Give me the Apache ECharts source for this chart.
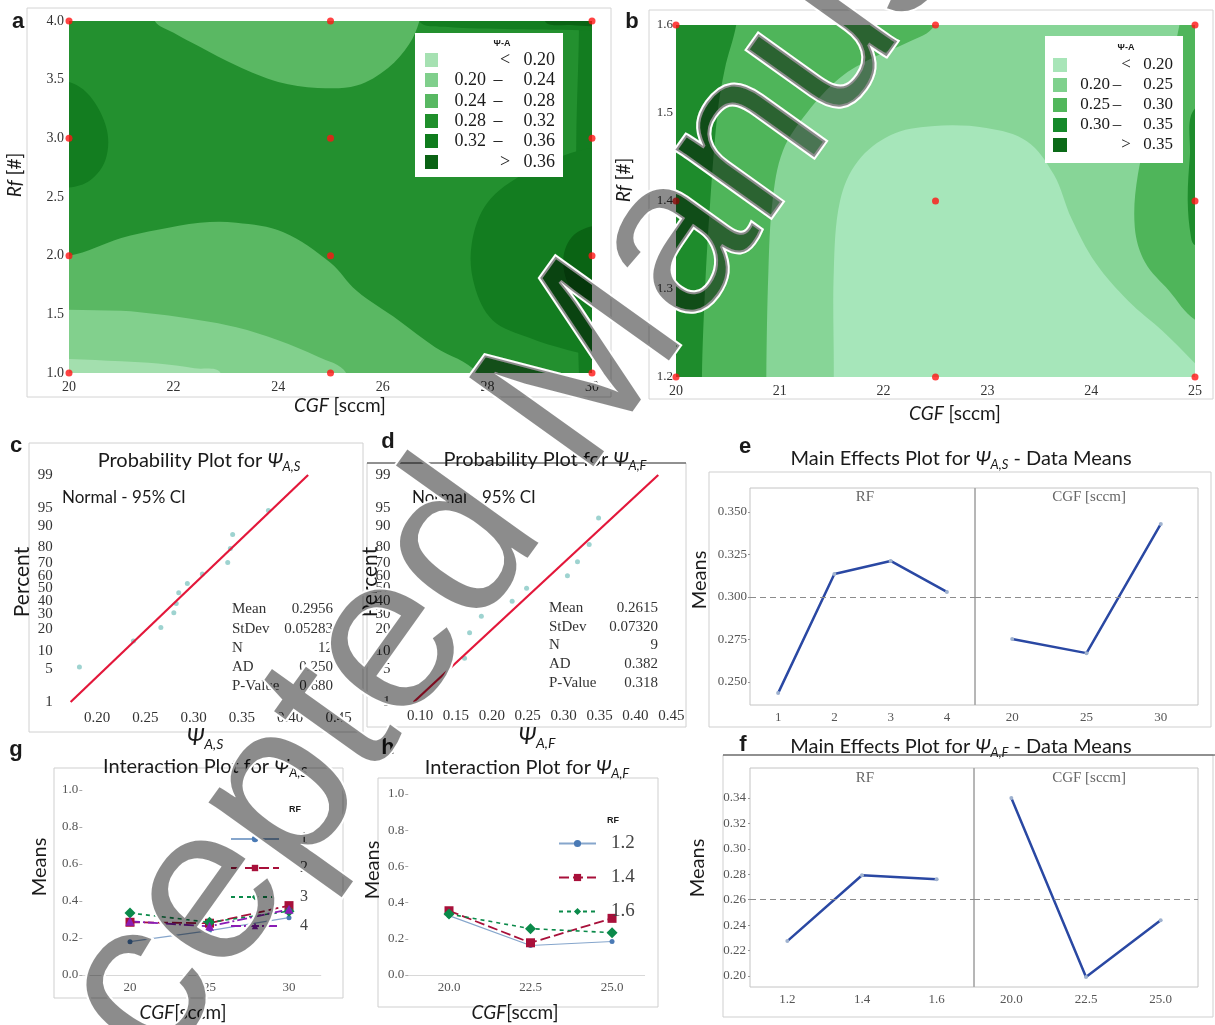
<!DOCTYPE html>
<html><head><meta charset="utf-8"><title>Psi-A figure</title>
<script src="https://cdn.jsdelivr.net/npm/echarts@6.0.0/dist/echarts.min.js"></script>
<style>html,body{margin:0;padding:0;background:#fff}#chart{width:1215px;height:1025px}</style>
</head><body><div id="chart"></div>
<script>
// ======================= DATA =======================
// (a) contour of Psi-A, CGF [sccm] vs Rf [#]
const aDesignCGF = [20,25,30,20,25,30,20,25,30,20,25,30];
const aDesignRf  = [4,4,4,3,3,3,2,2,2,1,1,1];
const aLegendRows = [['','<','0.20'],['0.20','–','0.24'],['0.24','–','0.28'],['0.28','–','0.32'],['0.32','–','0.36'],['','>','0.36']];
// band boundaries, [CGF, Rf]
const aTop2428   = [[21.3,4.4],[21.64,4.0],[22.0,3.9],[22.5,3.78],[23.2,3.62],[24.0,3.48],[24.75,3.43],[25.5,3.45],[26.1,3.6],[26.5,3.8],[26.7,4.0],[26.9,4.4]];
const aLeft3236  = [[19.4,3.5],[20,3.48],[20.4,3.36],[20.72,3.08],[20.7,2.82],[20.4,2.64],[20,2.58],[19.4,2.58]];
const aRight3236 = [[31,3.0],[30,2.92],[29.5,2.86],[28.7,2.7],[28.0,2.45],[27.7,2.1],[27.75,1.75],[28.1,1.45],[28.8,1.3],[29.5,1.2],[30,1.15],[31,1.1]];
const aRight36   = [[31,2.3],[30,2.25],[29.6,2.15],[29.45,1.95],[29.6,1.72],[30,1.62],[31,1.6]];
const aTopR3236  = [[26.6,4.5],[26.7,4.0],[27.2,3.95],[28.5,3.93],[30,3.92],[31,3.9],[31,4.5]];
const aEdge3236  = [[29.75,4.5],[29.75,3.9],[29.7,3.0],[29.7,2.0],[29.75,1.0],[29.8,0.5],[31,0.5],[31,4.5]];
const aTopR36    = [[29.0,4.5],[29.1,4.0],[29.6,3.965],[30,3.955],[31,3.95],[31,4.5]];
const aBot2428   = [[19,2.02],[20,2.0],[21.0,2.15],[21.7,2.22],[22.5,2.28],[23.2,2.28],[24.1,2.2],[25.0,1.94],[25.5,1.7],[26.3,1.45],[27.0,1.22],[27.8,1.0],[28.2,0.5],[19,0.5]];
const aBot2024   = [[19,1.55],[20,1.54],[21.0,1.53],[21.7,1.5],[22.5,1.45],[23.2,1.39],[24.0,1.28],[24.75,1.14],[25.3,1.0],[25.6,0.5],[19,0.5]];
const aBot20     = [[19,1.13],[20,1.12],[21,1.1],[21.7,1.08],[22.4,1.04],[22.9,1.0],[23.2,0.5],[19,0.5]];

// (b) contour of Psi-A, CGF [sccm] vs Rf [#]
const bDesignCGF = [20,22.5,25,20,22.5,25,20,22.5,25];
const bDesignRf  = [1.6,1.6,1.6,1.4,1.4,1.4,1.2,1.2,1.2];
const bLegendRows = [['','<','0.20'],['0.20','–','0.25'],['0.25','–','0.30'],['0.30','–','0.35'],['','>','0.35']];
const bLeft2530  = [[19,1.0],[20.86,1.0],[20.87,1.2],[20.89,1.32],[20.93,1.4],[21.03,1.457],[21.26,1.50],[21.58,1.54],[21.9,1.563],[22.23,1.58],[22.49,1.6],[22.7,1.7],[19,1.7]];
const bLeft3035  = [[19,1.7],[20.7,1.7],[20.58,1.6],[20.47,1.55],[20.4,1.5],[20.33,1.4],[20.28,1.3],[20.25,1.2],[20.24,1.0],[19,1.0]];
const bCenter20  = [[21.5,1.0],[21.52,1.2],[21.52,1.32],[21.58,1.4],[21.75,1.445],[22.07,1.475],[22.46,1.485],[22.99,1.483],[23.38,1.468],[23.64,1.43],[23.81,1.38],[24.04,1.33],[24.36,1.286],[24.69,1.252],[24.98,1.218],[25.2,1.19],[25.5,1.0]];
const bRight2530 = [[24.9,1.7],[24.85,1.6],[24.6,1.5],[24.45,1.43],[24.42,1.37],[24.52,1.33],[24.75,1.298],[25,1.265],[25.5,1.24],[25.5,1.7]];
const bRight3035 = [[25.5,1.52],[25,1.505],[24.95,1.45],[24.93,1.40],[24.96,1.36],[25,1.35],[25.5,1.33]];

// (c) probability plot Psi_A,S
const cX   = [0.1818,0.2377,0.2661,0.2795,0.282,0.2846,0.2935,0.309,0.3353,0.338,0.3404,0.3774];
const cPct = [5.4,14.1,21.2,30.9,38,46.5,54,61.6,70.3,79.4,86.6,94.5];
const cFit = [[0.1727,1],[0.4185,99]];
const cStats = [['Mean','0.2956'],['StDev','0.05283'],['N','12'],['AD','0.250'],['P-Value','0.680']];
const cXTicks = [0.20,0.25,0.30,0.35,0.40,0.45];
// (d) probability plot Psi_A,F
const dX   = [0.162,0.169,0.1854,0.2283,0.2484,0.3053,0.3193,0.3356,0.3487];
const dPct = [7.6,18.2,28.5,39.6,50.3,60.4,70.8,81.6,92.6];
const dFit = [[0.0912,1],[0.4318,99]];
const dStats = [['Mean','0.2615'],['StDev','0.07320'],['N','9'],['AD','0.382'],['P-Value','0.318']];
const dXTicks = [0.10,0.15,0.20,0.25,0.30,0.35,0.40,0.45];
const pctTicks = [1,5,10,20,30,40,50,60,70,80,90,95,99];

// (e) main effects Psi_A,S
const eRF = [1,2,3,4];          const eRFMeans  = [0.2435,0.3135,0.3212,0.303];
const eCGF = [20,25,30];        const eCGFMeans = [0.2753,0.267,0.343];
const eGrandMean = 0.2956;
const eYTicks = [0.250,0.275,0.300,0.325,0.350];
// (f) main effects Psi_A,F
const fRF = [1.2,1.4,1.6];      const fRFMeans  = [0.2274,0.2792,0.2760];
const fCGF = [20.0,22.5,25.0];  const fCGFMeans = [0.340,0.1992,0.2439];
const fGrandMean = 0.2615;
const fYTicks = [0.20,0.22,0.24,0.26,0.28,0.30,0.32,0.34];

// (g) interaction Psi_A,S
const gCGF = [20,25,30];
const gRFNames = ['1','2','3','4'];
const gRF1 = [0.18,0.24,0.31];
const gRF2 = [0.285,0.28,0.375];
const gRF3 = [0.335,0.285,0.345];
const gRF4 = [0.29,0.263,0.355];
// (h) interaction Psi_A,F
const hCGF = [20.0,22.5,25.0];
const hRFNames = ['1.2','1.4','1.6'];
const hRF12 = [0.328,0.163,0.185];
const hRF14 = [0.355,0.178,0.313];
const hRF16 = [0.337,0.256,0.234];

// ======================= HELPERS =======================
function probit(p){
  const a=[-3.969683028665376e+01,2.209460984245205e+02,-2.759285104469687e+02,1.383577518672690e+02,-3.066479806614716e+01,2.506628277459239e+00];
  const b=[-5.447609879822406e+01,1.615858368580409e+02,-1.556989798598866e+02,6.680131188771972e+01,-1.328068155288572e+01];
  const c=[-7.784894002430293e-03,-3.223964580411365e-01,-2.400758277161838e+00,-2.549732539343734e+00,4.374664141464968e+00,2.938163982698783e+00];
  const d=[7.784695709041462e-03,3.224671290700398e-01,2.445134137142996e+00,3.754408661907416e+00];
  const pl=0.02425, ph=1-pl; let q,r;
  if(p<pl){q=Math.sqrt(-2*Math.log(p));return (((((c[0]*q+c[1])*q+c[2])*q+c[3])*q+c[4])*q+c[5])/((((d[0]*q+d[1])*q+d[2])*q+d[3])*q+1);}
  if(p<=ph){q=p-0.5;r=q*q;return (((((a[0]*r+a[1])*r+a[2])*r+a[3])*r+a[4])*r+a[5])*q/(((((b[0]*r+b[1])*r+b[2])*r+b[3])*r+b[4])*r+1);}
  q=Math.sqrt(-2*Math.log(1-p));return -(((((c[0]*q+c[1])*q+c[2])*q+c[3])*q+c[4])*q+c[5])/((((d[0]*q+d[1])*q+d[2])*q+d[3])*q+1);
}
function pctLabel(v){let best=pctTicks[0],bd=1e9;pctTicks.forEach(p=>{const dd=Math.abs(probit(p/100)-v);if(dd<bd){bd=dd;best=p;}});return String(best);}
const ctx2d=document.createElement('canvas').getContext('2d');
function tw(t,f){ctx2d.font=f;return ctx2d.measureText(t).width;}

const SERIF='"Liberation Serif", "DejaVu Serif", serif';
const SANS='Lato, "Open Sans", sans-serif';
const G=[];
function tstyle(text,font,fill,align,va){return {text:text,font:font,fill:fill||'#1a1a1a',align:align||'left',verticalAlign:va||'middle',textAlign:align||'left',textVerticalAlign:va||'middle'};}
function txt(x,y,text,font,o){o=o||{};G.push({type:'text',x:x,y:y,z:o.z||60,rotation:o.rot||0,silent:true,style:tstyle(text,font,o.fill,o.align,o.va)});}
function comp(cx,cy,parts,o){o=o||{};const ws=parts.map(p=>tw(p.t,p.f));const total=ws.reduce((s,w)=>s+w,0);let x=-total/2;const ch=[];
  parts.forEach((p,i)=>{ch.push({type:'text',x:x,y:(p.dy||0),z:o.z||60,silent:true,style:tstyle(p.t,p.f,o.fill,'left','middle')});x+=ws[i];});
  G.push({type:'group',x:cx,y:cy,rotation:o.rot||0,z:o.z||60,children:ch});}
function rect(x,y,w,h,o){o=o||{};G.push({type:'rect',z:o.z||0,silent:true,shape:{x:x,y:y,width:w,height:h},style:{fill:o.fill||'none',stroke:o.stroke||'none',lineWidth:o.lw||1}});}
function hline(x1,y1,x2,y2,color,w,z){G.push({type:'line',z:z||1,silent:true,shape:{x1:x1,y1:y1,x2:x2,y2:y2},style:{stroke:color,lineWidth:w||1}});}

// ======================= STYLE =======================
const colA = {lt20:'#a3dfae', b2024:'#82d08d', b2428:'#5ab863', b2832:'#23902f', b3236:'#137d20', gt36:'#0a6414'};
const colA_leg = ['#a6e1b2','#80cf8c','#58b862','#1f8f2b','#0f7c1d','#0a6214'];
const colB = {lt20:'#a6e6ba', b2025:'#87d597', b2530:'#4fb55a', b3035:'#1e8c2c'};
const colB_leg = ['#a8e5b8','#7fd18d','#52b75c','#15892a','#0b6a18'];

function region(gi,pts,color){
  return {type:'custom',xAxisIndex:gi,yAxisIndex:gi,clip:true,silent:true,data:[[pts[0][0],pts[0][1]]],
    renderItem:function(params,api){const cs=params.coordSys;
      return {type:'polygon',shape:{points:pts.map(p=>api.coord(p)),smooth:0.35},style:{fill:color,stroke:null},
        clipPath:{type:'rect',shape:{x:cs.x,y:cs.y,width:cs.width,height:cs.height}}};}};
}
const noLine={show:false}, noTick={show:false}, noSplit={show:false};
function lbl(o){return Object.assign({fontFamily:SERIF,fontSize:14,color:'#333'},o);}

const grids=[
  {left:69,top:21,width:523,height:352,show:true,backgroundColor:colA.b2832,borderWidth:0},
  {left:676,top:25,width:519,height:352,show:true,backgroundColor:colB.b2025,borderWidth:0},
  {left:48.7,top:469,width:299.5,height:239},
  {left:398.5,top:469,width:280,height:239},
  {left:750,top:488,width:225,height:217,show:true,borderColor:'#c4c4c4',borderWidth:1,backgroundColor:'rgba(0,0,0,0)'},
  {left:975,top:488,width:223,height:217,show:true,borderColor:'#c4c4c4',borderWidth:1,backgroundColor:'rgba(0,0,0,0)'},
  {left:750,top:768,width:224,height:219,show:true,borderColor:'#c4c4c4',borderWidth:1,backgroundColor:'rgba(0,0,0,0)'},
  {left:974,top:768,width:224,height:219,show:true,borderColor:'#c4c4c4',borderWidth:1,backgroundColor:'rgba(0,0,0,0)'},
  {left:82.3,top:790,width:238.5,height:185},
  {left:408.25,top:794,width:236.4,height:181}
].map(g=>Object.assign({outerBoundsMode:'none',containLabel:false},g));

const xAxes=[
  {gridIndex:0,type:'value',min:20,max:30,interval:2,axisLine:noLine,axisTick:noTick,splitLine:noSplit,axisLabel:lbl({margin:7})},
  {gridIndex:1,type:'value',min:20,max:25,interval:1,axisLine:noLine,axisTick:noTick,splitLine:noSplit,axisLabel:lbl({margin:7})},
  {gridIndex:2,type:'value',min:0.15,max:0.46,axisLine:noLine,axisTick:noTick,splitLine:noSplit,axisLabel:lbl({customValues:cXTicks,formatter:v=>v.toFixed(2),margin:3,fontSize:15})},
  {gridIndex:3,type:'value',min:0.07,max:0.46,axisLine:noLine,axisTick:noTick,splitLine:noSplit,axisLabel:lbl({customValues:dXTicks,formatter:v=>v.toFixed(2),margin:1,fontSize:15})},
  {gridIndex:4,type:'value',min:0.5,max:4.5,axisLine:noLine,axisTick:noTick,splitLine:noSplit,axisLabel:lbl({customValues:eRF,formatter:v=>String(v),margin:6,fontSize:13,color:'#555'})},
  {gridIndex:5,type:'value',min:17.5,max:32.5,axisLine:noLine,axisTick:noTick,splitLine:noSplit,axisLabel:lbl({customValues:eCGF,formatter:v=>String(v),margin:6,fontSize:13,color:'#555'})},
  {gridIndex:6,type:'value',min:1.1,max:1.7,axisLine:noLine,axisTick:noTick,splitLine:noSplit,axisLabel:lbl({customValues:fRF,formatter:v=>v.toFixed(1),margin:6,fontSize:13,color:'#555'})},
  {gridIndex:7,type:'value',min:18.75,max:26.25,axisLine:noLine,axisTick:noTick,splitLine:noSplit,axisLabel:lbl({customValues:fCGF,formatter:v=>v.toFixed(1),margin:6,fontSize:13,color:'#555'})},
  {gridIndex:8,type:'value',min:17,max:32,axisLine:{show:true,lineStyle:{color:'#d8d8d8'}},axisTick:noTick,splitLine:noSplit,axisLabel:lbl({customValues:gCGF,formatter:v=>String(v),margin:6,fontSize:13,color:'#555'})},
  {gridIndex:9,type:'value',min:18.75,max:26,axisLine:{show:true,lineStyle:{color:'#d8d8d8'}},axisTick:noTick,splitLine:noSplit,axisLabel:lbl({customValues:hCGF,formatter:v=>v.toFixed(1),margin:6,fontSize:13,color:'#555'})}
];
const yAxes=[
  {gridIndex:0,type:'value',min:1,max:4,interval:0.5,axisLine:noLine,axisTick:noTick,splitLine:noSplit,axisLabel:lbl({formatter:v=>v.toFixed(1),margin:5})},
  {gridIndex:1,type:'value',min:1.2,max:1.6,interval:0.1,axisLine:noLine,axisTick:noTick,splitLine:noSplit,axisLabel:lbl({formatter:v=>v.toFixed(1),margin:3,fontSize:13})},
  {gridIndex:2,type:'value',min:-2.45,max:2.45,axisLine:noLine,axisTick:noTick,splitLine:noSplit,axisLabel:lbl({customValues:pctTicks.map(p=>probit(p/100)),formatter:pctLabel,margin:-4,fontSize:15})},
  {gridIndex:3,type:'value',min:-2.45,max:2.45,axisLine:noLine,axisTick:noTick,splitLine:noSplit,axisLabel:lbl({customValues:pctTicks.map(p=>probit(p/100)),formatter:pctLabel,margin:8,fontSize:15})},
  {gridIndex:4,type:'value',min:0.2365,max:0.3641,axisLine:noLine,axisTick:{show:true,length:2,customValues:eYTicks,lineStyle:{color:'#999'}},splitLine:noSplit,axisLabel:lbl({customValues:eYTicks,formatter:v=>v.toFixed(3),margin:3,fontSize:13,color:'#555'})},
  {gridIndex:5,type:'value',min:0.2365,max:0.3641,axisLine:noLine,axisTick:noTick,splitLine:noSplit,axisLabel:{show:false}},
  {gridIndex:6,type:'value',min:0.1913,max:0.3636,axisLine:noLine,axisTick:{show:true,length:2,customValues:fYTicks,lineStyle:{color:'#999'}},splitLine:noSplit,axisLabel:lbl({customValues:fYTicks,formatter:v=>v.toFixed(2),margin:4,fontSize:13,color:'#555'})},
  {gridIndex:7,type:'value',min:0.1913,max:0.3636,axisLine:noLine,axisTick:noTick,splitLine:noSplit,axisLabel:{show:false}},
  {gridIndex:8,type:'value',min:0,max:1,interval:0.2,axisLine:noLine,axisTick:{show:true,length:3,lineStyle:{color:'#aaa'}},splitLine:noSplit,axisLabel:lbl({formatter:v=>v.toFixed(1),margin:4,fontSize:13,color:'#555'})},
  {gridIndex:9,type:'value',min:0,max:1,interval:0.2,axisLine:noLine,axisTick:{show:true,length:3,lineStyle:{color:'#aaa'}},splitLine:noSplit,axisLabel:lbl({formatter:v=>v.toFixed(1),margin:4,fontSize:13,color:'#555'})}
];

const series=[];
// (a)
series.push(region(0,aTop2428,colA.b2428));
series.push(region(0,aEdge3236,colA.b3236));
series.push(region(0,aTopR3236,colA.b3236));
series.push(region(0,aTopR36,colA.gt36));
series.push(region(0,aLeft3236,colA.b3236));
series.push(region(0,aRight3236,colA.b3236));
series.push(region(0,aRight36,colA.gt36));
series.push(region(0,aBot2428,colA.b2428));
series.push(region(0,aBot2024,colA.b2024));
series.push(region(0,aBot20,colA.lt20));
series.push({type:'scatter',xAxisIndex:0,yAxisIndex:0,z:5,silent:true,symbolSize:7,itemStyle:{color:'#ff1414'},data:aDesignCGF.map((x,i)=>[x,aDesignRf[i]]),clip:false});
// (b)
series.push(region(1,bLeft2530,colB.b2530));
series.push(region(1,bLeft3035,colB.b3035));
series.push(region(1,bCenter20,colB.lt20));
series.push(region(1,bRight2530,colB.b2530));
series.push(region(1,bRight3035,colB.b3035));
series.push({type:'scatter',xAxisIndex:1,yAxisIndex:1,z:5,silent:true,symbolSize:7,itemStyle:{color:'#ff1414'},data:bDesignCGF.map((x,i)=>[x,bDesignRf[i]]),clip:false});
// (c),(d)
series.push({type:'line',xAxisIndex:2,yAxisIndex:2,silent:true,symbol:'none',lineStyle:{color:'#e3173a',width:2.2},data:cFit.map(p=>[p[0],probit(p[1]/100)])});
series.push({type:'scatter',xAxisIndex:2,yAxisIndex:2,silent:true,symbolSize:5,itemStyle:{color:'#86c8c4'},data:cX.map((x,i)=>[x,probit(cPct[i]/100)])});
series.push({type:'line',xAxisIndex:3,yAxisIndex:3,silent:true,symbol:'none',lineStyle:{color:'#e3173a',width:2.2},data:dFit.map(p=>[p[0],probit(p[1]/100)])});
series.push({type:'scatter',xAxisIndex:3,yAxisIndex:3,silent:true,symbolSize:5,itemStyle:{color:'#86c8c4'},data:dX.map((x,i)=>[x,probit(dPct[i]/100)])});
// (e),(f)
function meLine(gi,xs,ys,mean){return {type:'line',xAxisIndex:gi,yAxisIndex:gi,silent:true,symbol:'circle',symbolSize:4,itemStyle:{color:'#9fb2cf'},lineStyle:{color:'#2a48a3',width:2.5},data:xs.map((x,i)=>[x,ys[i]]),
  markLine:{silent:true,symbol:'none',label:{show:false},lineStyle:{type:[6,4],color:'#8c8c8c',width:1.2},data:[{yAxis:mean}]}};}
series.push(meLine(4,eRF,eRFMeans,eGrandMean));
series.push(meLine(5,eCGF,eCGFMeans,eGrandMean));
series.push(meLine(6,fRF,fRFMeans,fGrandMean));
series.push(meLine(7,fCGF,fCGFMeans,fGrandMean));
// (g),(h)
const intStyles=[
  {color:'#4a7ab5',line:{width:1.2,type:'solid',color:'#86a6cc'},symbol:'circle',size:5},
  {color:'#a8103a',line:{width:1.8,type:[10,4]},symbol:'rect',size:9},
  {color:'#0b8a4a',line:{width:1.6,type:[4,4]},symbol:'diamond',size:11},
  {color:'#8a1db5',line:{width:1.8,type:[10,3,2,3]},symbol:'triangle',size:9}
];
function intLine(gi,name,xs,ys,st){return {type:'line',name:name,xAxisIndex:gi,yAxisIndex:gi,silent:true,symbol:st.symbol,symbolSize:st.size,itemStyle:{color:st.color},lineStyle:Object.assign({color:st.color},st.line),data:xs.map((x,i)=>[x,ys[i]])};}
[gRF1,gRF2,gRF3,gRF4].forEach((ys,i)=>series.push(intLine(8,gRFNames[i],gCGF,ys,intStyles[i])));
[hRF12,hRF14,hRF16].forEach((ys,i)=>series.push(intLine(9,hRFNames[i],hCGF,ys,intStyles[i])));

// ======================= TEXT & FRAMES =======================
rect(27,8,584,389,{stroke:'#d4d4d4'});
rect(649,10,564,389,{stroke:'#d4d4d4'});
rect(29,443,334,289,{stroke:'#d0d0d0'});
rect(367,463,319,264,{stroke:'#d0d0d0'});
hline(367,463,686,463,'#3a3a3a',1.2,2);
rect(709,472,502,255,{stroke:'#cfcfcf'});
rect(723,755,490,262,{stroke:'#cfcfcf'});
hline(723,755,1215,755,'#3a3a3a',1.2,2);
rect(54,768,289,230,{stroke:'#cfcfcf'});
rect(378,778,280,229,{stroke:'#cfcfcf'});
hline(975,488,975,705,'#9a9a9a',1,3);
hline(974,768,974,987,'#9a9a9a',1,3);

const LET='bold 22px "Liberation Sans", Arial, sans-serif';
[['a',18,22],['b',632,22],['c',16,446],['d',388,442],['e',745,447],['f',743,745],['g',16,750],['h',388,748]].forEach(l=>txt(l[1],l[2],l[0],LET,{align:'center'}));

const AX='19px '+SANS, AXI='italic 19px '+SANS;
comp(340,406,[{t:'CGF',f:AXI},{t:' [sccm]',f:AX}]);
comp(15,175,[{t:'Rf',f:AXI},{t:' [#]',f:AX}],{rot:Math.PI/2});
comp(955,414,[{t:'CGF',f:AXI},{t:' [sccm]',f:AX}]);
comp(624,180,[{t:'Rf',f:AXI},{t:' [#]',f:AX}],{rot:Math.PI/2});

rect(415,33,148,144,{fill:'#ffffff',z:20});
txt(502,44,'Ψ-A','bold 9px "Liberation Sans", Arial',{align:'center',z:22});
aLegendRows.forEach((r,i)=>{const y=[60,80,101,121,141,162][i];
  rect(425,y-7,13,14,{fill:colA_leg[i],z:21});
  const F='18px '+SERIF;
  if(r[0]) txt(486,y,r[0],F,{align:'right',z:22});
  txt(r[1]==='–'?498:505,y,r[1],F,{align:'center',z:22});
  txt(555,y,r[2],F,{align:'right',z:22});});
rect(1045,36,138,127,{fill:'#ffffff',z:20});
txt(1126,48,'Ψ-A','bold 9px "Liberation Sans", Arial',{align:'center',z:22});
bLegendRows.forEach((r,i)=>{const y=[65,85,105,125,145][i];
  rect(1053,y-7,14,14,{fill:colB_leg[i],z:21});
  const F='17px '+SERIF;
  if(r[0]) txt(1110,y,r[0],F,{align:'right',z:22});
  txt(r[1]==='–'?1117:1126,y,r[1],F,{align:'center',z:22});
  txt(1173,y,r[2],F,{align:'right',z:22});});

const TT='20px '+SANS, TTI='italic 20px '+SANS, TTS='italic 13px '+SANS;
comp(199,461,[{t:'Probability Plot for ',f:TT},{t:'Ψ',f:TTI},{t:'A,S',f:TTS,dy:6}]);
comp(545,460,[{t:'Probability Plot for ',f:TT},{t:'Ψ',f:TTI},{t:'A,F',f:TTS,dy:6}]);
txt(62,498,'Normal - 95% CI','17px '+SANS);
txt(412,498,'Normal - 95% CI','17px '+SANS);
comp(22,582,[{t:'Percent',f:'21px '+SANS}],{rot:Math.PI/2});
comp(370,582,[{t:'Percent',f:'21px '+SANS}],{rot:Math.PI/2});
comp(205,738,[{t:'Ψ',f:'italic 23px '+SANS},{t:'A,S',f:'italic 14px '+SANS,dy:6}]);
comp(537,737,[{t:'Ψ',f:'italic 23px '+SANS},{t:'A,F',f:'italic 14px '+SANS,dy:6}]);
cStats.forEach((s,i)=>{const y=[609,629,648,667,686][i];txt(232,y,s[0],'15px '+SERIF,{fill:'#333'});txt(333,y,s[1],'15px '+SERIF,{fill:'#333',align:'right'});});
dStats.forEach((s,i)=>{const y=[608,627,645,664,683][i];txt(549,y,s[0],'15px '+SERIF,{fill:'#333'});txt(658,y,s[1],'15px '+SERIF,{fill:'#333',align:'right'});});

comp(961,459,[{t:'Main Effects Plot for ',f:TT},{t:'Ψ',f:TTI},{t:'A,S',f:TTS,dy:6},{t:' - Data Means',f:TT}]);
comp(961,747,[{t:'Main Effects Plot for ',f:TT},{t:'Ψ',f:TTI},{t:'A,F',f:TTS,dy:6},{t:' - Data Means',f:TT}]);
comp(700,580,[{t:'Means',f:'20px '+SANS}],{rot:Math.PI/2});
comp(698,868,[{t:'Means',f:'20px '+SANS}],{rot:Math.PI/2});
txt(865,497,'RF','15px '+SERIF,{fill:'#666',align:'center'});
txt(1089,497,'CGF [sccm]','15px '+SERIF,{fill:'#666',align:'center'});
txt(865,778,'RF','15px '+SERIF,{fill:'#666',align:'center'});
txt(1089,778,'CGF [sccm]','15px '+SERIF,{fill:'#666',align:'center'});

comp(205,767,[{t:'Interaction Plot for ',f:TT},{t:'Ψ',f:TTI},{t:'A,S',f:TTS,dy:6}]);
comp(527,768,[{t:'Interaction Plot for ',f:TT},{t:'Ψ',f:TTI},{t:'A,F',f:TTS,dy:6}]);
comp(40,867,[{t:'Means',f:'20px '+SANS}],{rot:Math.PI/2});
comp(373,870,[{t:'Means',f:'20px '+SANS}],{rot:Math.PI/2});
comp(183,1013,[{t:'CGF',f:AXI},{t:'[sccm]',f:AX}]);
comp(515,1013,[{t:'CGF',f:AXI},{t:'[sccm]',f:AX}]);
txt(295,810,'RF','bold 9px "Liberation Sans", Arial',{align:'center'});
txt(613,821,'RF','bold 9px "Liberation Sans", Arial',{align:'center'});

// watermark
G.push({type:'text',x:49,y:1313,rotation:0.95,z:200,silent:true,
  style:{text:'Accepted Manuscript',font:'222px "Liberation Sans", Arial, sans-serif',fill:'rgba(0,0,0,0.45)',stroke:'#ffffff',lineWidth:4,align:'left',verticalAlign:'bottom',textAlign:'left',textVerticalAlign:'bottom'}});

const option={
  animation:false,
  backgroundColor:'#ffffff',
  textStyle:{fontFamily:SERIF},
  grid:grids, xAxis:xAxes, yAxis:yAxes, series:series,
  legend:[
    {data:gRFNames,orient:'vertical',left:225,top:826,itemWidth:48,itemHeight:8,itemGap:13,selectedMode:false,
      textStyle:{fontFamily:SERIF,fontSize:16,color:'#444',padding:[0,0,0,16]}},
    {data:hRFNames,orient:'vertical',left:553,top:829,itemWidth:37,itemHeight:9,itemGap:15,selectedMode:false,
      textStyle:{fontFamily:SERIF,fontSize:19,color:'#444',padding:[0,0,0,10]}}
  ],
  graphic:{elements:G}
};
const chart=echarts.init(document.getElementById('chart'),null,{renderer:'canvas',width:1215,height:1025});
chart.setOption(option);
</script></body></html>
